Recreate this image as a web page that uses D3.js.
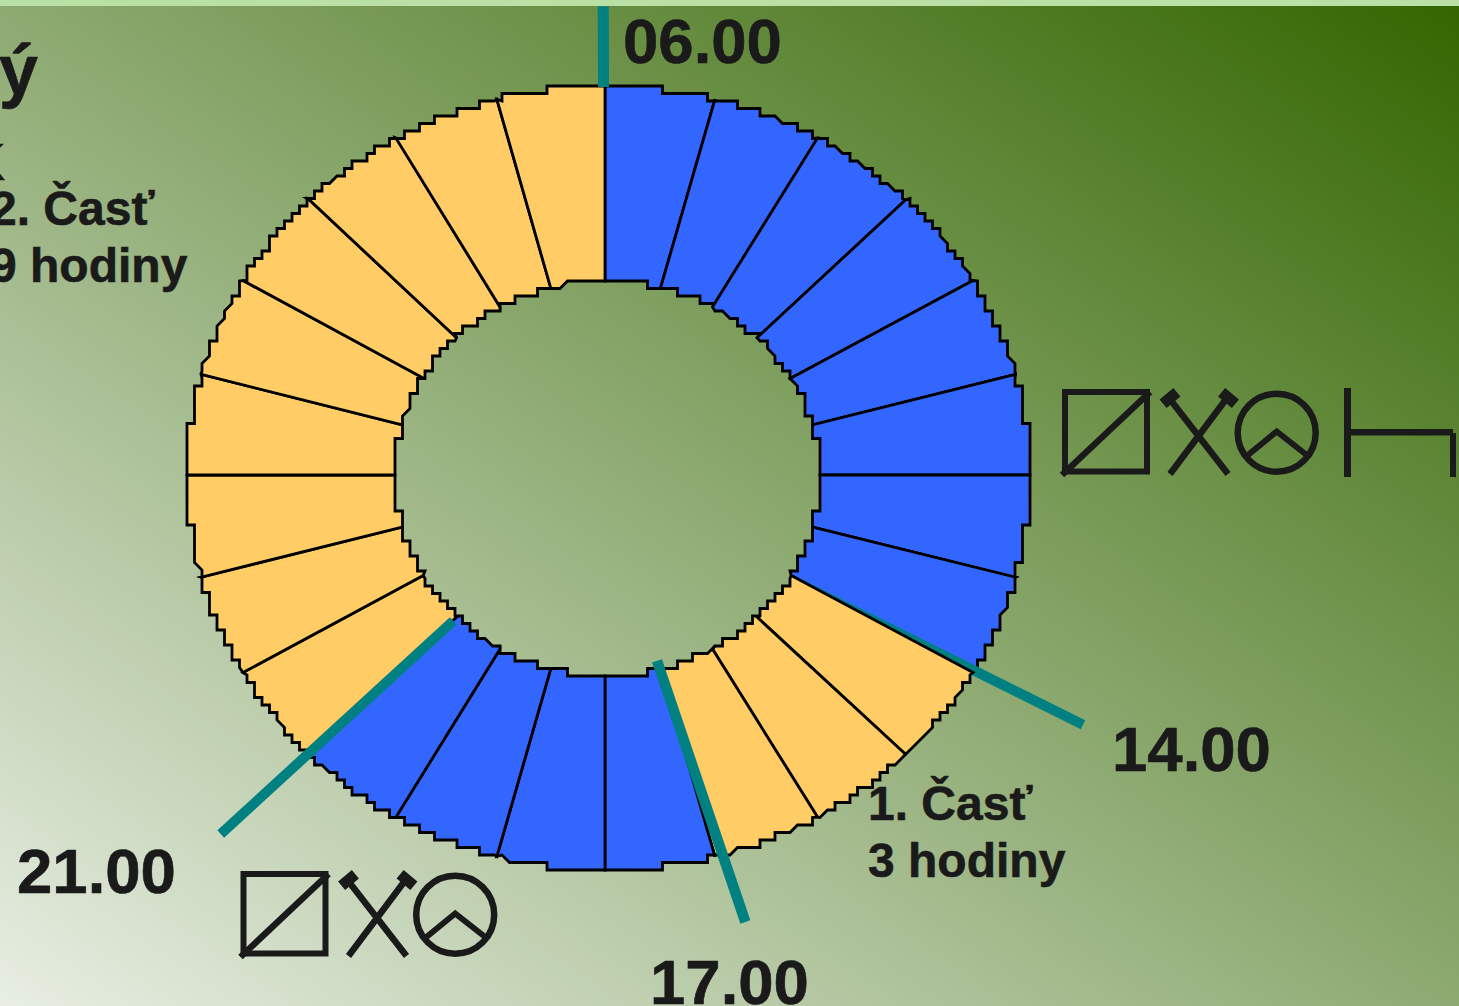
<!DOCTYPE html>
<html><head><meta charset="utf-8">
<script src="https://cdn.jsdelivr.net/npm/d3@7"></script>
<style>
html,body{margin:0;padding:0;width:1459px;height:1006px;overflow:hidden;background:#bbe0a6}
#bg{position:absolute;left:0;top:6px;width:1459px;height:1000px;background:linear-gradient(to top right,#e8eee3,#336600)}
svg{position:absolute;left:0;top:0}
text{font-family:"Liberation Sans",Arial,sans-serif;font-weight:700;fill:#1a1a1a;stroke:#1a1a1a;stroke-width:0.6px}
</style></head>
<body><div id="bg"></div><svg id="c" width="1459" height="1006"></svg>
<script>
// Data: the day divided in work phases, hours per phase, starting at 06.00
const phaseNames = ["work-1", "break-1", "work-2", "break-2"];
const phaseHours = [8, 3, 4, 9];
const phaseColors = ["#3366ff", "#ffcc66", "#3366ff", "#ffcc66"];
const clockHours = [6, 14, 17, 21];
const clockLabels = ["06.00", "14.00", "17.00", "21.00"];
const partLines = [["1. Časť", "3 hodiny"], ["2. Časť", "9 hodiny"]];

// expand phases to one slice per hour
const hourPhase = phaseHours.flatMap((h, i) => d3.range(h).map(() => phaseNames[i]));
const color = d3.scaleOrdinal(phaseNames, phaseColors);

const cx = 605, cy = 475, grid = 7.5;
const outerR = {l: 418, r: 425, t: 389, b: 395};
const innerR = {l: 210, r: 215, t: 194, b: 201};
const hourAngle = d3.scaleLinear([6, 30], [0, 2 * Math.PI]);

const pie = d3.pie().value(1).sort(null);
const slices = pie(hourPhase);

function pt(a, R, stair) {
  const s = Math.sin(a), c = Math.cos(a);
  const rx = s > 0 ? R.r : R.l, ry = c > 0 ? R.t : R.b;
  let dx = Math.abs(s) * rx, dy = Math.abs(c) * ry;
  if (stair) {
    dx = rx - Math.round((rx - dx) / grid) * grid;
    dy = ry - Math.round((ry - dy) / grid) * grid;
    dx = Math.max(dx, 0); dy = Math.max(dy, 0);
  }
  return [cx + Math.sign(s) * dx, cy - Math.sign(c) * dy];
}
// turns a jog followed by a long run into a small chamfer
function chamfer(pts) {
  const out = pts.map(p => p.slice());
  for (let i = 1; i < pts.length - 1; i++) {
    const a = pts[i - 1], b = pts[i], c = pts[i + 1];
    const ux = b[0] - a[0], uy = b[1] - a[1], vx = c[0] - b[0], vy = c[1] - b[1];
    const lu = Math.hypot(ux, uy), lv = Math.hypot(vx, vy);
    const perp = Math.abs(ux * vx + uy * vy) < 0.01;
    if (perp && lu <= grid + 0.1 && lv >= 1.5 * grid - 0.1 && (Math.abs(ux) < 0.01 || Math.abs(uy) < 0.01)) {
      out[i] = [b[0] + vx / lv * 5, b[1] + vy / lv * 5];
    }
  }
  return out;
}
function rimPoints(a0, a1, R) {
  const n = 60, pts = [pt(a0, R, false)];
  for (let i = 1; i < n; i++) {
    const p = pt(a0 + (a1 - a0) * i / n, R, true);
    const q = pts[pts.length - 1];
    if (Math.abs(p[0] - q[0]) > 0.01 || Math.abs(p[1] - q[1]) > 0.01) pts.push(p);
  }
  pts.push(pt(a1, R, false));
  return chamfer(pts);
}
const line = d3.line();
function slicePath(d) {
  const pts = rimPoints(d.startAngle, d.endAngle, outerR)
    .concat(rimPoints(d.endAngle, d.startAngle, innerR));
  return line(pts) + "Z";
}

const svg = d3.select("#c");
const ring = svg.append("g");
function addSlice(d) {
  ring.append("path").attr("d", slicePath(d)).attr("fill", color(d.data))
    .attr("stroke", "#000").attr("stroke-width", 2.8).attr("stroke-linejoin", "miter");
}

// tick geometry: [angle nudge start (deg), radius start, angle nudge end (deg), radius end, width]
const tickGeom = [[-0.2, 0.99, -0.2, 1.196, 11], [1, 0.535, -0.7, 1.302, 10], [0.4, 0.49, -1.3, 1.188, 10.5], [-0.9, 0.518, -0.1, 1.293, 10]];
function tickPos(h, nudge, r) {
  const a = hourAngle(h) + nudge * Math.PI / 180;
  return [cx + Math.sin(a) * 421 * r, cy - Math.cos(a) * 392 * r];
}
function addTick(i) {
  const g = tickGeom[i], h = clockHours[i];
  ring.append("path").attr("d", line([tickPos(h, g[0], g[1]), tickPos(h, g[2], g[3])]))
    .attr("stroke", "#008080").attr("stroke-width", g[4]).attr("fill", "none");
}
// first phase, then the 14.00 line (it lies under the next phase), then the rest
const firstPhase = phaseHours[0];
slices.slice(0, firstPhase).forEach(addSlice);
addTick(1);
slices.slice(firstPhase).forEach(addSlice);
[0, 2, 3].forEach(addTick);

// labels
const labelPos = [[623, 63], [1112, 771], [650, 1004], [17, 893]];
clockLabels.forEach((t, i) => svg.append("text").attr("x", labelPos[i][0]).attr("y", labelPos[i][1])
  .attr("font-size", 63.5).text(t));
const partPos = [[868, 820], [-10, 225]];
partLines.forEach((ls, i) => ls.forEach((t, j) => svg.append("text")
  .attr("x", partPos[i][0]).attr("y", partPos[i][1] + j * 57).attr("font-size", 48).text(t)));
svg.append("text").attr("x", 38).attr("y", 94).attr("text-anchor", "end").attr("font-size", 70).text("ý");
svg.append("text").attr("x", 5).attr("y", 180).attr("text-anchor", "end").attr("font-size", 52).text("K");

// process symbols
function symbols(g) {
  const st = (sel, w) => sel.attr("stroke", "#1a1a1a").attr("stroke-width", w).attr("fill", "none");
  st(g.append("rect").attr("x", 1065).attr("y", 392).attr("width", 82).attr("height", 79.5), 6);
  st(g.append("path").attr("d", "M1062,475L1150,392"), 6.5);
  st(g.append("path").attr("d", "M1170,474L1227,398M1228,474L1169,398"), 6.5);
  g.append("rect").attr("x", -9).attr("y", -5.5).attr("width", 18).attr("height", 11)
    .attr("transform", "translate(1228.5,398) rotate(40)").attr("fill", "#1a1a1a");
  g.append("rect").attr("x", -9).attr("y", -5.5).attr("width", 18).attr("height", 11)
    .attr("transform", "translate(1170,398) rotate(-40)").attr("fill", "#1a1a1a");
  st(g.append("circle").attr("cx", 1276.7).attr("cy", 432.7).attr("r", 39), 6.5);
  st(g.append("path").attr("d", "M1246.7,456L1276.7,431.5L1306.7,455"), 6);
}
symbols(svg.append("g"));
symbols(svg.append("g").attr("transform", "translate(-821.5,482)"));
const h = svg.append("g").attr("fill", "#1a1a1a");
h.append("rect").attr("x", 1344).attr("y", 388).attr("width", 7).attr("height", 89);
h.append("rect").attr("x", 1351).attr("y", 429).attr("width", 102).attr("height", 6.5);
h.append("rect").attr("x", 1450).attr("y", 433).attr("width", 6).attr("height", 44);
</script>
</body></html>
